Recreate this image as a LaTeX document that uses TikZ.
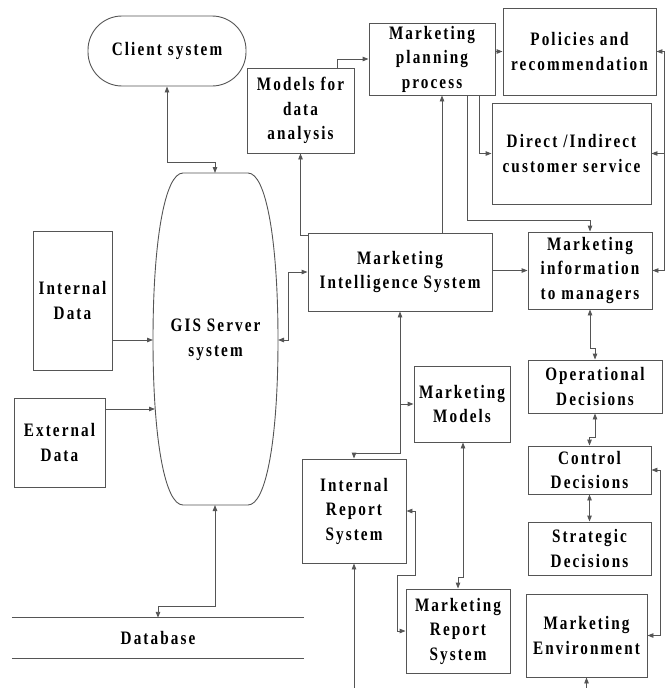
\documentclass[tikz,border=0pt]{standalone}
\usepackage{fontspec}
\setmainfont{Liberation Serif}[FakeStretch=0.8,LetterSpace=11]
\usetikzlibrary{arrows.meta,calc}
\definecolor{linec}{HTML}{555555}
\begin{document}
\begin{tikzpicture}[x=1pt,y=-1pt,
  >={Triangle[length=6pt,width=4.5pt]},
  box/.style={draw=linec, line width=0.9pt, inner sep=0pt, align=center, text=black,
    font=\bfseries\fontsize{19}{24.5}\selectfont},
  txt/.style={inner sep=0pt, align=center, text=black, font=\bfseries\fontsize{19}{24.5}\selectfont},
  conn/.style={draw=linec, line width=0.9pt}]
\useasboundingbox (0,0) rectangle (669,688);
% nodes
\node[box, rounded corners=34pt, minimum width=158, minimum height=70] (client) at (167,51) {Client system};
\node[box, minimum width=107, minimum height=85] (models) at (300.5,110.5) {Models for\\data\\analysis};
\node[box, minimum width=126, minimum height=72] (planning) at (432,59) {Marketing\\planning\\process};
\node[box, minimum width=153, minimum height=87] (policies) at (579.5,51.5) {Policies and\\recommendation};
\node[box, minimum width=159, minimum height=101] (direct) at (571.5,153.5) {Direct /Indirect\\customer service};
\node[box, minimum width=79, minimum height=139] (intdata) at (72.5,300.5) {Internal\\Data};
\node[box, minimum width=91, minimum height=89] (extdata) at (59.5,442.5) {External\\Data};
\node[box, minimum width=184, minimum height=78] (mis) at (400,272) {Marketing\\Intelligence System};
\node[box, minimum width=124, minimum height=77] (info) at (590,270.5) {Marketing\\information\\to managers};
\node[box, minimum width=134, minimum height=53] (oper) at (595,386.5) {Operational\\Decisions};
\node[box, minimum width=96, minimum height=76] (mmodels) at (462,404) {Marketing\\Models};
\node[box, minimum width=123, minimum height=48] (control) at (589.5,470) {Control\\Decisions};
\node[box, minimum width=123, minimum height=53] (strategic) at (589.5,548.5) {Strategic\\Decisions};
\node[box, minimum width=121, minimum height=83] (env) at (586.5,635.5) {Marketing\\Environment};
\node[box, minimum width=104, minimum height=104] (irs) at (354,511) {Internal\\Report\\System};
\node[box, minimum width=104, minimum height=84] (mrs) at (458,631) {Marketing\\Report\\System};
\node[txt, minimum width=292, minimum height=40] (db) at (158,638) {Database};
\draw[conn] (db.north west) -- (db.north east);
\draw[conn] (db.south west) -- (db.south east);
% GIS server barrel
\node[txt] (gis) at (215.5,340) {GIS Server\\system};
\draw[conn] (183,173) -- (248,173)
  .. controls (266,173) and (278,240) .. (278,340)
  .. controls (278,440) and (266,505) .. (248,505)
  -- (183,505)
  .. controls (165,505) and (153,440) .. (153,340)
  .. controls (153,240) and (165,173) .. (183,173) -- cycle;
\coordinate (gisT) at (215,173);
\coordinate (gisB) at (215,505);
\coordinate (gisL) at (153,340);
\coordinate (gisL2) at (155,409);
\coordinate (gisR) at (278,340);
% connectors
\draw[conn,<->] (client.south) -- ++(0,76) -| (gisT);
\draw[conn,->] (intdata.east |- gisL) -- (gisL);
\draw[conn,->] (extdata.east |- gisL2) -- (gisL2);
\draw[conn,<->] (gisR) -- ++(10,0) |- (mis.west);
\draw[conn,->] ($(mis.north west)+(0,3)$) -| (models.south);
\draw[conn,->] ($(models.north east)+(-17,0)$) |- (planning.west);
\coordinate (p1) at ($(planning.south)+(10,0)$);
\draw[conn,->] (mis.north -| p1) -- (p1);
\draw[conn,->] (planning.east |- policies.west) -- (policies.west);
\draw[conn,->] ($(planning.south east)+(-16,0)$) |- (direct.west);
\draw[conn,->] ($(planning.south east)+(-28,0)$) -- ++(0,125) -| (info.north);
\draw[conn,->] (mis.east |- info.west) -- (info.west);
\coordinate (rx) at ($(info.east)+(12,0)$);
\draw[conn,<->] (info.east) -- (rx) |- (policies.east);
\draw[conn,->] (rx |- direct.east) -- (direct.east);
\draw[conn,<->] (info.south) -- ++(0,39) -| (oper.north);
\draw[conn,<->] (oper.south) -- ++(0,24) -| (control.north);
\draw[conn,<->] (control.south) -- (strategic.north);
\draw[conn,<->] (control.east) -- ++(9,0) |- (env.east);
\path (env.south) ++(0,11) coordinate (envin);
\draw[conn,->] (envin) -- (env.south);
\draw[conn,<->] (mis.south) -- ++(0,142) -| (irs.north);
\draw[conn,->] (mis.south |- mmodels.west) -- (mmodels.west);
\draw[conn,<->] ($(mmodels.south)+(1,0)$) -- ++(0,135) -| (mrs.north);
\draw[conn,<->] (irs.east) -- ++(9,0) -- ++(0,64) -- ++(-18,0) |- (mrs.west);
\path (irs.south) ++(0,125) coordinate (irsin);
\draw[conn,->] (irsin) -- (irs.south);
\draw[conn,<->] (gisB) -- ++(0,101) -| (db.north);
\end{tikzpicture}
\end{document}
